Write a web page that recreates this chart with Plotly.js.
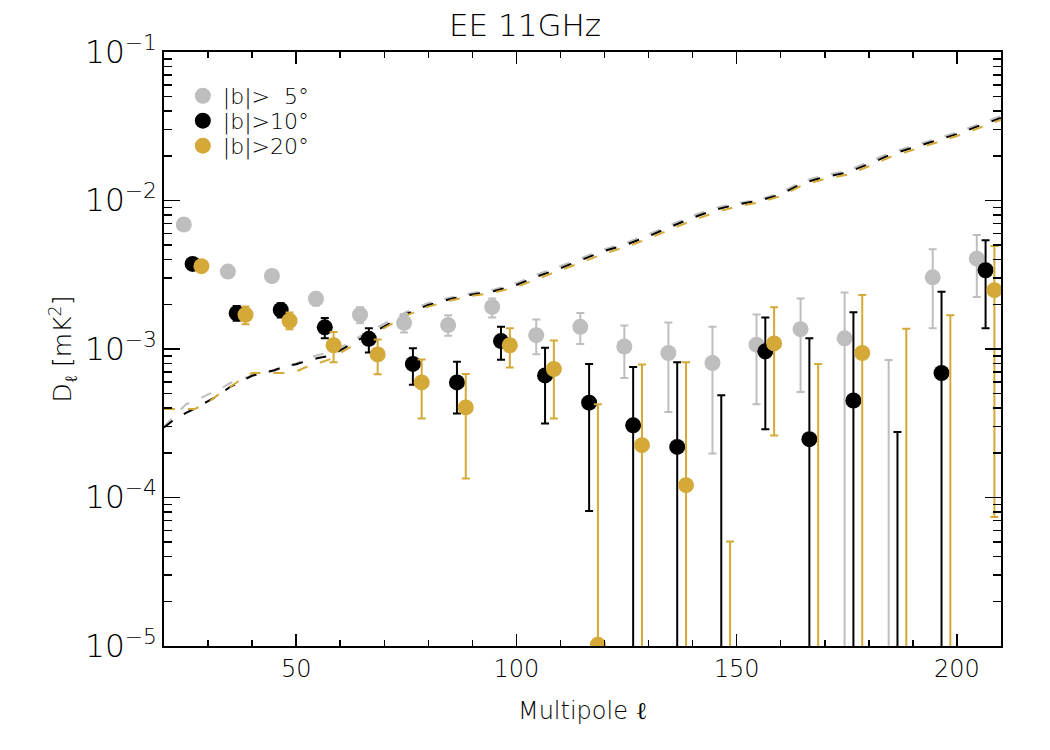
<!DOCTYPE html>
<html>
<head>
<meta charset="utf-8">
<script src="https://cdn.plot.ly/plotly-3.0.1.min.js"></script>
<style>
  html, body { margin: 0; padding: 0; background: #ffffff; }
  #chart { width: 1050px; height: 750px; }
</style>
</head>
<body>
<div id="chart"></div>
<script>
// EE power spectrum at 11GHz for three latitude cuts.
// Points are band powers D_ell; lines are the noise levels.

const ELL_GRAY  = [24.5, 34.5, 44.5, 54.5, 64.5, 74.5, 84.5, 94.5, 104.5, 114.5,
                   124.5, 134.5, 144.5, 154.5, 164.5, 174.5, 184.5, 194.5, 204.5];
const ELL_BLACK = [26.5, 36.5, 46.5, 56.5, 66.5, 76.5, 86.5, 96.5, 106.5, 116.5,
                   126.5, 136.5, 146.5, 156.5, 166.5, 176.5, 186.5, 196.5, 206.5];
const ELL_GOLD  = [28.5, 38.5, 48.5, 58.5, 68.5, 78.5, 88.5, 98.5, 108.5, 118.5,
                   128.5, 138.5, 148.5, 158.5, 168.5, 178.5, 188.5, 198.5, 208.5];

// band power; null = below the plotted range
const DL_GRAY  = [6.89e-3, 3.32e-3, 3.10e-3, 2.18e-3, 1.70e-3, 1.50e-3, 1.45e-3, 1.92e-3, 1.24e-3, 1.41e-3,
                  1.04e-3, 9.40e-4, 8.05e-4, 1.07e-3, 1.36e-3, 1.18e-3, null, 3.04e-3, 4.06e-3];
const DL_BLACK = [3.74e-3, 1.74e-3, 1.83e-3, 1.40e-3, 1.17e-3, 7.93e-4, 5.96e-4, 1.13e-3, 6.64e-4, 4.35e-4,
                  3.06e-4, 2.19e-4, null, 9.64e-4, 2.47e-4, 4.50e-4, null, 6.89e-4, 3.39e-3];
const DL_GOLD  = [3.61e-3, 1.70e-3, 1.55e-3, 1.06e-3, 9.20e-4, 5.96e-4, 4.04e-4, 1.06e-3, 7.33e-4, 1.02e-5,
                  2.25e-4, 1.21e-4, null, 1.09e-3, null, 9.40e-4, null, null, 2.49e-3];

// error bar ends; null low end = bar runs off the bottom of the plot
const LO_GRAY  = [6.89e-3, 3.32e-3, 3.10e-3, 1.96e-3, 1.49e-3, 1.29e-3, 1.23e-3, 1.63e-3, 9.21e-4, 1.08e-3,
                  6.38e-4, 3.77e-4, 1.98e-4, 4.24e-4, 5.13e-4, null, null, 1.38e-3, 2.24e-3];
const HI_GRAY  = [6.89e-3, 3.32e-3, 3.10e-3, 2.31e-3, 1.91e-3, 1.72e-3, 1.69e-3, 2.19e-3, 1.58e-3, 1.75e-3,
                  1.44e-3, 1.51e-3, 1.41e-3, 1.71e-3, 2.19e-3, 2.40e-3, 8.43e-4, 4.69e-3, 5.86e-3];
const LO_BLACK = [3.74e-3, 1.55e-3, 1.63e-3, 1.18e-3, 9.48e-4, 5.74e-4, 3.68e-4, 8.47e-4, 3.15e-4, 8.11e-5,
                  null, null, null, 2.88e-4, null, null, null, null, 1.38e-3];
const HI_BLACK = [3.74e-3, 1.95e-3, 2.03e-3, 1.62e-3, 1.38e-3, 1.01e-3, 8.21e-4, 1.41e-3, 1.02e-3, 7.93e-4,
                  7.57e-4, 8.13e-4, 4.88e-4, 1.63e-3, 1.18e-3, 1.77e-3, 2.76e-4, 2.43e-3, 5.40e-3];
const LO_GOLD  = [3.61e-3, 1.47e-3, 1.36e-3, 8.13e-4, 6.75e-4, 3.40e-4, 1.34e-4, 7.51e-4, 3.40e-4, null,
                  null, null, null, 2.62e-4, null, null, null, null, 7.39e-5];
const HI_GOLD  = [3.61e-3, 1.93e-3, 1.76e-3, 1.30e-3, 1.16e-3, 8.51e-4, 6.78e-4, 1.38e-3, 1.14e-3, 4.24e-4,
                  7.85e-4, 8.13e-4, 5.05e-5, 1.91e-3, 7.93e-4, 2.31e-3, 1.37e-3, 1.69e-3, 4.94e-3];

// noise curves
const ELL_NOISE = [20, 22, 25, 27, 30, 32, 35, 37, 40, 42, 45, 47, 50, 52, 55, 58, 60, 65, 70, 75,
                   80, 85, 90, 95, 100, 105, 110, 115, 120, 125, 130, 135, 140, 145, 150, 155,
                   160, 165, 170, 175, 180, 185, 190, 195, 200, 205, 210];
const NOISE_GRAY  = [3.00e-4, 3.45e-4, 4.25e-4, 4.45e-4, 4.95e-4, 5.20e-4, 5.90e-4, 6.20e-4, 6.65e-4, 6.95e-4,
                     7.10e-4, 7.55e-4, 8.00e-4, 8.50e-4, 9.10e-4, 9.60e-4, 1.02e-3, 1.24e-3, 1.48e-3, 1.78e-3,
                     2.04e-3, 2.22e-3, 2.38e-3, 2.52e-3, 2.78e-3, 3.20e-3, 3.62e-3, 4.12e-3, 4.70e-3, 5.20e-3,
                     5.92e-3, 6.85e-3, 7.90e-3, 8.90e-3, 9.60e-3, 1.01e-2, 1.13e-2, 1.35e-2, 1.48e-2, 1.58e-2,
                     1.81e-2, 2.10e-2, 2.34e-2, 2.58e-2, 2.88e-2, 3.27e-2, 3.70e-2];
const NOISE_BLACK = [2.96e-4, 3.30e-4, 3.72e-4, 3.97e-4, 4.45e-4, 4.80e-4, 5.55e-4, 5.95e-4, 6.60e-4, 6.85e-4,
                     7.20e-4, 7.55e-4, 7.90e-4, 8.25e-4, 8.70e-4, 9.05e-4, 9.80e-4, 1.19e-3, 1.42e-3, 1.72e-3,
                     1.98e-3, 2.17e-3, 2.33e-3, 2.46e-3, 2.70e-3, 3.10e-3, 3.50e-3, 4.00e-3, 4.58e-3, 5.05e-3,
                     5.75e-3, 6.65e-3, 7.65e-3, 8.65e-3, 9.40e-3, 9.95e-3, 1.10e-2, 1.31e-2, 1.44e-2, 1.54e-2,
                     1.76e-2, 2.04e-2, 2.27e-2, 2.51e-2, 2.80e-2, 3.18e-2, 3.60e-2];
const NOISE_GOLD  = [3.95e-4, 3.95e-4, 3.95e-4, 3.95e-4, 4.35e-4, 4.85e-4, 5.55e-4, 6.10e-4, 6.89e-4, 6.89e-4,
                     6.89e-4, 6.89e-4, 7.05e-4, 7.50e-4, 8.00e-4, 8.60e-4, 9.40e-4, 1.14e-3, 1.38e-3, 1.68e-3,
                     1.93e-3, 2.12e-3, 2.28e-3, 2.40e-3, 2.62e-3, 3.00e-3, 3.40e-3, 3.85e-3, 4.40e-3, 4.88e-3,
                     5.55e-3, 6.40e-3, 7.35e-3, 8.30e-3, 9.10e-3, 9.70e-3, 1.07e-2, 1.27e-2, 1.40e-2, 1.49e-2,
                     1.70e-2, 1.97e-2, 2.20e-2, 2.43e-2, 2.72e-2, 3.08e-2, 3.50e-2];

const GRAY = '#bebebe';
const BLACK = '#000000';
const GOLD = '#d4a937';
const FONT = 'DejaVu Sans';
const FLOOR = 1e-7; // below the axis, used for points that fall off the plot

function bandTrace(name, ell, dl, lo, hi, color, legendId) {
  const y = dl.map(v => (v == null ? FLOOR : v));
  return {
    x: ell,
    y: y,
    type: 'scatter',
    mode: 'markers',
    name: name,
    legend: legendId,
    marker: { color: color, size: 16 },
    error_y: {
      type: 'data',
      symmetric: false,
      array: hi.map((h, i) => h - y[i]),
      arrayminus: lo.map((l, i) => (l == null ? y[i] - FLOOR / 2 : y[i] - l)),
      color: color,
      thickness: 2,
      width: 4,
    },
    cliponaxis: true,
  };
}

function noiseTrace(vals, color) {
  return {
    x: ELL_NOISE,
    y: vals,
    type: 'scatter',
    mode: 'lines',
    showlegend: false,
    hoverinfo: 'skip',
    line: { color: color, width: 2, dash: '11px,13px' },
  };
}

const traces = [
  noiseTrace(NOISE_GRAY, GRAY),
  noiseTrace(NOISE_BLACK, BLACK),
  noiseTrace(NOISE_GOLD, GOLD),
  bandTrace('|b|>\u20075°', ELL_GRAY, DL_GRAY, LO_GRAY, HI_GRAY, GRAY, 'legend'),
  bandTrace('|b|>10°', ELL_BLACK, DL_BLACK, LO_BLACK, HI_BLACK, BLACK, 'legend2'),
  bandTrace('|b|>20°', ELL_GOLD, DL_GOLD, LO_GOLD, HI_GOLD, GOLD, 'legend3'),
];

// one legend per row so the rows sit as tight as in the original
function legendRow(y) {
  return {
    x: 0.0225, y: y, xanchor: 'left', yanchor: 'middle',
    bgcolor: 'rgba(0,0,0,0)',
    font: { family: FONT, size: 22, color: '#000000', weight: 200 },
  };
}

const layout = {
  width: 1050,
  height: 750,
  paper_bgcolor: '#ffffff',
  plot_bgcolor: '#ffffff',
  font: { family: FONT, color: '#000000', size: 24, weight: 200 },
  margin: { l: 164, r: 49, t: 52, b: 104 },
  showlegend: true,
  title: {
    text: 'EE 11GHz',
    font: { family: FONT, size: 31, color: '#000000', weight: 200 },
    x: 0.5, xanchor: 'center', y: 0.967, yanchor: 'middle',
  },
  legend: legendRow(0.926),
  legend2: legendRow(0.884),
  legend3: legendRow(0.842),
  xaxis: {
    type: 'linear',
    range: [20, 210],
    title: { text: 'Multipole ℓ', font: { family: FONT, size: 24, weight: 200 }, standoff: 20 },
    tick0: 0, dtick: 50,
    ticks: 'inside', ticklen: 12, tickwidth: 1.5, tickcolor: '#000',
    minor: { ticks: 'inside', ticklen: 6, dtick: 10, tickwidth: 1.5, tickcolor: '#000', showgrid: false },
    tickfont: { family: FONT, size: 24, weight: 200 },
    showline: true, linecolor: '#000', linewidth: 2, mirror: 'allticks',
    showgrid: false, zeroline: false,
  },
  yaxis: {
    type: 'log',
    range: [-5, -1],
    title: { text: 'D<sub>ℓ</sub> [mK<sup>2</sup>]', font: { family: FONT, size: 25, weight: 200 }, standoff: 6 },
    dtick: 1,
    exponentformat: 'power',
    ticks: 'inside', ticklen: 16, tickwidth: 1.5, tickcolor: '#000',
    minor: { ticks: 'inside', ticklen: 8, dtick: 'D1', tickwidth: 1.5, tickcolor: '#000', showgrid: false },
    tickfont: { family: FONT, size: 25, weight: 200 },
    showline: true, linecolor: '#000', linewidth: 2, mirror: 'allticks',
    showgrid: false, zeroline: false,
  },
};

Plotly.newPlot('chart', traces, layout, { displayModeBar: false, staticPlot: true });
</script>
</body>
</html>
